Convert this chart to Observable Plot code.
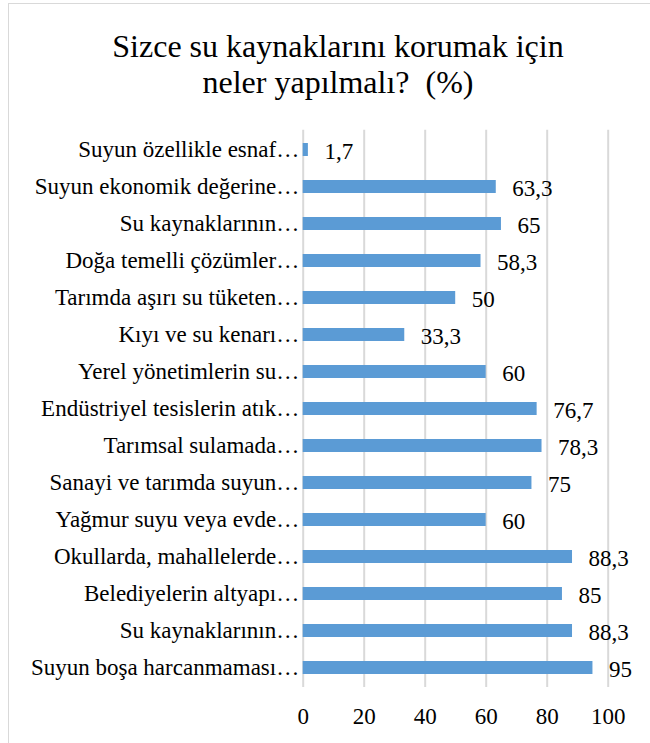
<!DOCTYPE html>
<html>
<head>
<meta charset="utf-8">
<script src="https://cdn.jsdelivr.net/npm/d3@7"></script>
<script src="https://cdn.jsdelivr.net/npm/@observablehq/plot@0.6"></script>
<style>
  html, body { margin: 0; padding: 0; background: #fff; }
  #wrap { position: relative; width: 650px; height: 743px; overflow: hidden; background: #fff; }
  #frame { position: absolute; left: 8px; top: 3px; width: 700px; height: 800px;
           border-left: 1px solid #d9d9d9; border-top: 1px solid #d9d9d9; box-sizing: border-box; }
  #title { position: absolute; left: 26px; top: 28px; width: 624px; text-align: center;
           font-family: "Liberation Serif", "Tinos", "Times New Roman", Times, "DejaVu Serif", serif;
           font-size: 32px; line-height: 36px; color: #000; white-space: pre; }
  #chart { position: absolute; left: 0; top: 115px; line-height: 0; }
</style>
</head>
<body>
<div id="wrap">
  <div id="frame"></div>
  <div id="title">Sizce su kaynaklarını korumak için
neler yapılmalı?  (%)</div>
  <div id="chart"></div>
</div>
<script>
const categories = [
  "Suyun özellikle esnaf…",
  "Suyun ekonomik değerine…",
  "Su kaynaklarının…",
  "Doğa temelli çözümler…",
  "Tarımda aşırı su tüketen…",
  "Kıyı ve su kenarı…",
  "Yerel yönetimlerin su…",
  "Endüstriyel tesislerin atık…",
  "Tarımsal sulamada…",
  "Sanayi ve tarımda suyun…",
  "Yağmur suyu veya evde…",
  "Okullarda, mahallelerde…",
  "Belediyelerin altyapı…",
  "Su kaynaklarının…",
  "Suyun boşa harcanmaması…"
];
const values = [1.7, 63.3, 65, 58.3, 50, 33.3, 60, 76.7, 78.3, 75, 60, 88.3, 85, 88.3, 95];
const xTicks = [0, 20, 40, 60, 80, 100];

const data = categories.map((c, i) => ({i, label: c, value: values[i]}));
const font = '"Liberation Serif", "Tinos", "Times New Roman", Times, "DejaVu Serif", serif';

const chart = Plot.plot({
  width: 650,
  height: 628,
  marginLeft: 302.7,
  marginRight: 42.3,
  marginTop: 14.7,
  marginBottom: 55.9,
  style: {fontFamily: font, fontSize: "23px", color: "#000", background: "transparent"},
  x: {domain: [0, 100], ticks: xTicks, label: null},
  y: {domain: d3.range(categories.length), paddingInner: 0.66, paddingOuter: 0.33, label: null, tickFormat: i => categories[i]},
  marks: [
    Plot.ruleX(xTicks, {stroke: "#d9d9d9", strokeWidth: 2}),
    Plot.barX(data, {x: "value", y: "i", fill: "#5B9BD5"}),
    Plot.text(data, {x: "value", y: "i", text: d => String(d.value).replace(".", ","),
      textAnchor: "start", dx: 16, dy: 2, fontSize: 23, fill: "#000", fontFamily: font}),
    Plot.axisY({tickSize: 0, tickPadding: 4, label: null, fontSize: 23, fontFamily: font,
      tickFormat: i => categories[i], textAnchor: "end"}),
    Plot.axisX({ticks: xTicks, tickSize: 0, tickPadding: 20, label: null, fontSize: 23, fontFamily: font})
  ]
});
document.getElementById("chart").appendChild(chart);
</script>
</body>
</html>
